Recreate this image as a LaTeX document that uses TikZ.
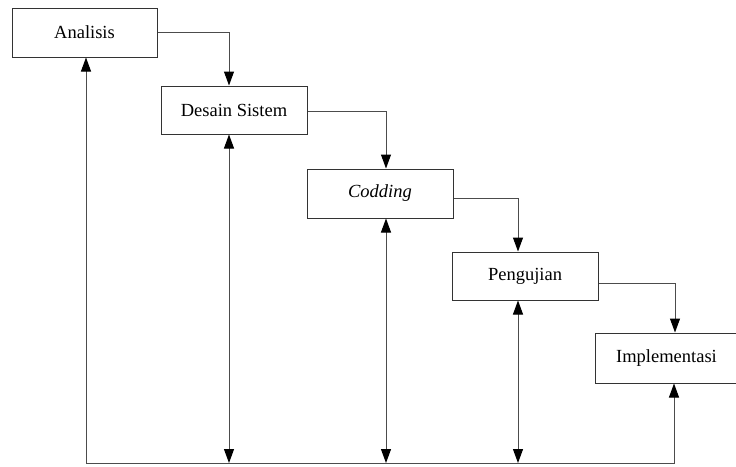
\documentclass[tikz,border=0pt]{standalone}
\usepackage{fontspec}
\setmainfont{Liberation Serif}
\usetikzlibrary{arrows.meta}
\tikzset{
  stage/.style={draw=black!80, line width=1pt, fill=white, inner sep=0pt,
    font=\fontsize{18.5}{22}\selectfont},
  flow/.style={draw=black!70, line width=1pt},
  tip/.tip={Triangle[length=14pt,width=10pt,color=black]}
}
\begin{document}
\begin{tikzpicture}[x=1pt,y=-1pt]
  \useasboundingbox (0,0) rectangle (736,466);
  \clip (0,0) rectangle (736,466);
  \fill[white] (0,0) rectangle (736,466);

  % process stages
  \node[stage, minimum width=145pt, minimum height=49pt] (ana) at (84.5,32.5) {Analisis};
  \node[stage, minimum width=146pt, minimum height=48pt] (des) at (234,110) {Desain Sistem};
  \node[stage, minimum width=146pt, minimum height=49pt] (cod) at (380,193.5) {\itshape Codding};
  \node[stage, minimum width=146pt, minimum height=48pt] (pen) at (525,276) {Pengujian};
  \node[stage, minimum width=143pt, minimum height=50pt] (imp) at (666.5,358) {Implementasi};

  % turning points of the step connectors
  \coordinate (t1) at (229,32);
  \coordinate (t2) at (386,111);
  \coordinate (t3) at (518,198);
  \coordinate (t4) at (675,283);

  % feedback line along the bottom
  \coordinate (bl) at (86,463);
  \coordinate (br) at (674,463);
  \coordinate (b1) at (229,463);
  \coordinate (b2) at (386,463);
  \coordinate (b3) at (518,463);

  % forward flow between stages
  \draw[flow,-tip] (ana.east |- t1) -- (t1) -- (t1 |- des.north);
  \draw[flow,-tip] (des.east |- t2) -- (t2) -- (t2 |- cod.north);
  \draw[flow,-tip] (cod.east |- t3) -- (t3) -- (t3 |- pen.north);
  \draw[flow,-tip] (pen.east |- t4) -- (t4) -- (t4 |- imp.north);

  % return paths
  \draw[flow,tip-tip] (br |- imp.south) -- (br) -- (bl) -- (bl |- ana.south);
  \draw[flow,tip-tip] (b1 |- des.south) -- (b1);
  \draw[flow,tip-tip] (b2 |- cod.south) -- (b2);
  \draw[flow,tip-tip] (b3 |- pen.south) -- (b3);
\end{tikzpicture}
\end{document}
